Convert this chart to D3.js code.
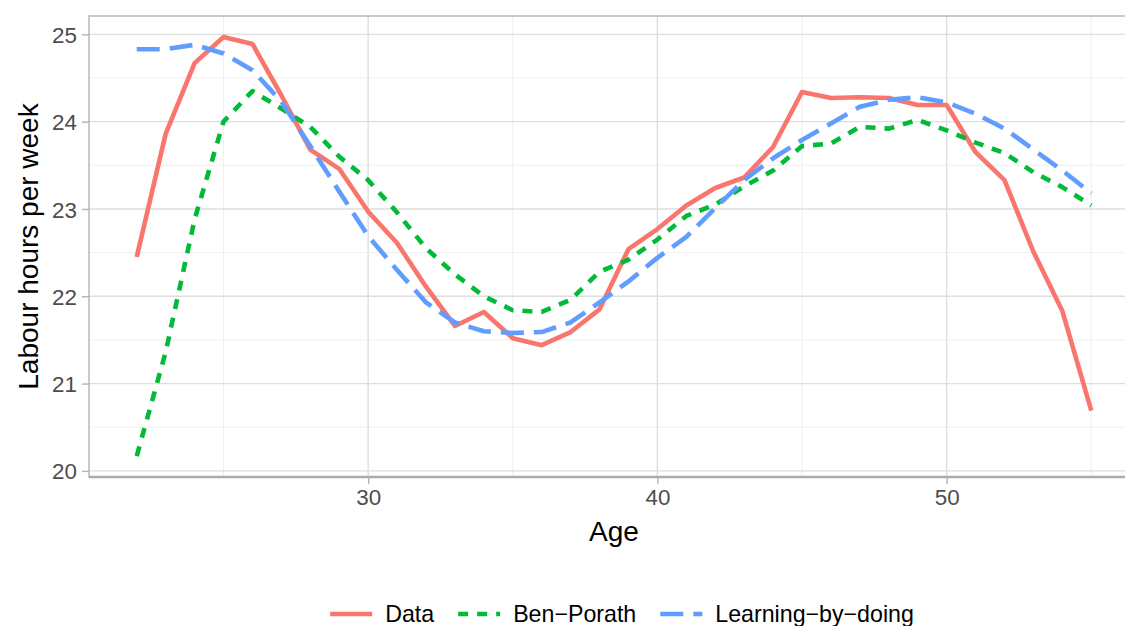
<!DOCTYPE html>
<html>
<head>
<meta charset="utf-8">
<script src="https://cdn.jsdelivr.net/npm/d3@7"></script>
<style>
  body { margin: 0; background: #fff; }
  svg { display: block; font-family: "Liberation Sans", Arial, sans-serif; }
</style>
</head>
<body>
<script>
// ages on x axis
const ages = d3.range(22, 56);

// series values
const dataHours = [22.45, 23.86, 24.67, 24.97, 24.89, 24.30, 23.68, 23.46, 22.97, 22.61,
  22.11, 21.66, 21.82, 21.52, 21.44, 21.59, 21.85, 22.54, 22.77, 23.04,
  23.24, 23.36, 23.71, 24.34, 24.27, 24.28, 24.27, 24.19, 24.19, 23.65,
  23.33, 22.51, 21.83, 20.69];
const benPorath = [20.17, 21.36, 22.88, 24.00, 24.35, 24.15, 23.94, 23.60, 23.33, 22.96,
  22.55, 22.25, 22.00, 21.84, 21.82, 21.96, 22.28, 22.42, 22.65, 22.92,
  23.05, 23.26, 23.44, 23.72, 23.75, 23.94, 23.92, 24.02, 23.90, 23.76,
  23.64, 23.42, 23.25, 23.04];
const learningByDoing = [24.83, 24.83, 24.88, 24.78, 24.59, 24.23, 23.72, 23.20, 22.69, 22.30,
  21.93, 21.70, 21.60, 21.58, 21.59, 21.70, 21.93, 22.17, 22.44, 22.68,
  23.01, 23.33, 23.58, 23.79, 23.98, 24.17, 24.25, 24.28, 24.22, 24.09,
  23.92, 23.68, 23.44, 23.18];

const seriesNames = ['Data', 'Ben\u2212Porath', 'Learning\u2212by\u2212doing'];
const seriesColors = ['#F8766D', '#00BA38', '#619CFF'];
const seriesDash = [null, '10,9', '23,10'];

const xTicks = [30, 40, 50];
const xMinor = [25, 35, 45, 55];
const yTicks = [20, 21, 22, 23, 24, 25];
const yMinor = [20.5, 21.5, 22.5, 23.5, 24.5];

const width = 1125;
const height = 626;
// panel is wider than the picture; the right edge is cut off
const panel = { left: 89, top: 16, right: 1139, bottom: 477 };

const series = seriesNames.map((name, i) => ({
  name,
  color: seriesColors[i],
  dash: seriesDash[i],
  values: ages.map((a, j) => ({ age: a, v: [dataHours, benPorath, learningByDoing][i][j] })),
}));

// ggplot style 5% expansion
const xExt = d3.extent(ages);
const xPad = (xExt[1] - xExt[0]) * 0.05;
const allV = dataHours.concat(benPorath, learningByDoing);
const yExt = d3.extent(allV);
const yPad = (yExt[1] - yExt[0]) * 0.05;

const x = d3.scaleLinear()
  .domain([xExt[0] - xPad, xExt[1] + xPad])
  .range([panel.left, panel.right]);
const y = d3.scaleLinear()
  .domain([yExt[0] - yPad, yExt[1] + yPad])
  .range([panel.bottom, panel.top]);

const svg = d3.create('svg')
  .attr('width', width)
  .attr('height', height);

d3.select('body')
  .append('div')
  .node()
  .appendChild(svg.node());

// grid
const grid = svg.append('g');
grid.selectAll('.ymin').data(yMinor).enter().append('line')
  .attr('x1', panel.left).attr('x2', panel.right)
  .attr('y1', d => y(d)).attr('y2', d => y(d))
  .attr('stroke', '#EBEBEB').attr('stroke-width', 0.8);
grid.selectAll('.xmin').data(xMinor).enter().append('line')
  .attr('y1', panel.top).attr('y2', panel.bottom)
  .attr('x1', d => x(d)).attr('x2', d => x(d))
  .attr('stroke', '#EBEBEB').attr('stroke-width', 0.8);
grid.selectAll('.ymaj').data(yTicks).enter().append('line')
  .attr('x1', panel.left).attr('x2', panel.right)
  .attr('y1', d => y(d)).attr('y2', d => y(d))
  .attr('stroke', '#DEDEDE').attr('stroke-width', 1.4);
grid.selectAll('.xmaj').data(xTicks).enter().append('line')
  .attr('y1', panel.top).attr('y2', panel.bottom)
  .attr('x1', d => x(d)).attr('x2', d => x(d))
  .attr('stroke', '#DEDEDE').attr('stroke-width', 1.4);

// lines
const line = d3.line()
  .x(d => x(d.age))
  .y(d => y(d.v));

svg.append('g')
  .selectAll('path')
  .data(series)
  .enter()
  .append('path')
  .attr('d', d => line(d.values))
  .attr('fill', 'none')
  .attr('stroke', d => d.color)
  .attr('stroke-width', 4.6)
  .attr('stroke-linejoin', 'round')
  .attr('stroke-dasharray', d => d.dash);

// panel border
svg.append('rect')
  .attr('x', panel.left).attr('y', panel.top)
  .attr('width', panel.right - panel.left)
  .attr('height', panel.bottom - panel.top)
  .attr('fill', 'none')
  .attr('stroke', '#B3B3B3')
  .attr('stroke-width', 1.4);
svg.append('line')
  .attr('x1', panel.left).attr('x2', panel.right)
  .attr('y1', panel.bottom).attr('y2', panel.bottom)
  .attr('stroke', '#ABABAB')
  .attr('stroke-width', 2.4);

// axes
const yAxis = d3.axisLeft(y).tickValues(yTicks).tickFormat(d3.format('d'))
  .tickSize(7).tickPadding(5);
const xAxis = d3.axisBottom(x).tickValues(xTicks).tickFormat(d3.format('d'))
  .tickSize(7).tickPadding(5);

const gy = svg.append('g')
  .attr('transform', `translate(${panel.left},0)`)
  .call(yAxis);
const gx = svg.append('g')
  .attr('transform', `translate(0,${panel.bottom})`)
  .call(xAxis);

[gx, gy].forEach((g) => {
  g.select('.domain').remove();
  g.selectAll('.tick line').attr('stroke', '#B3B3B3').attr('stroke-width', 1.4);
  g.selectAll('.tick text')
    .attr('fill', '#4D4D4D')
    .style('font-size', '22.4px')
    .attr('font-family', '"Liberation Sans", Arial, sans-serif');
});
gy.selectAll('.tick text').attr('dy', '0.36em');
gx.selectAll('.tick text').attr('dy', '0.72em').attr('y', 12);

svg.append('text')
  .attr('x', (panel.left + panel.right) / 2)
  .attr('y', 541)
  .attr('text-anchor', 'middle')
  .style('font-size', '28px')
  .text('Age');

svg.append('text')
  .attr('transform', `translate(38,${(panel.top + panel.bottom) / 2}) rotate(-90)`)
  .attr('text-anchor', 'middle')
  .style('font-size', '28px')
  .text('Labour hours per week');

// legend
const legend = svg.append('g');
const keyW = 42;
const keyGap = 13;
const itemGap = 24;
let lx = 0;
series.forEach((s) => {
  const item = legend.append('g').attr('transform', `translate(${lx},0)`);
  item.append('line')
    .attr('x1', 0).attr('x2', keyW)
    .attr('y1', 0).attr('y2', 0)
    .attr('stroke', s.color)
    .attr('stroke-width', 4.6)
    .attr('stroke-dasharray', s.dash);
  const t = item.append('text')
    .attr('x', keyW + keyGap)
    .attr('dy', '0.36em')
    .style('font-size', '23.2px')
    .text(s.name);
  lx += keyW + keyGap + t.node().getComputedTextLength() + itemGap;
});
lx -= itemGap;
legend.attr('transform', `translate(${(panel.left + panel.right) / 2 - lx / 2 + 8},614)`);
</script>
</body>
</html>
